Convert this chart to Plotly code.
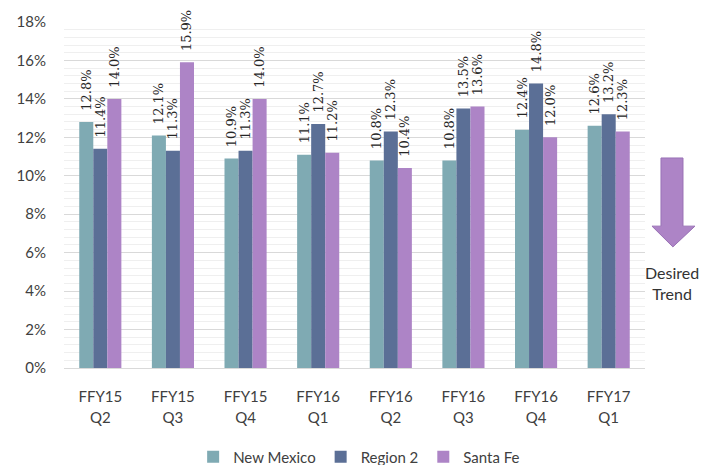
import plotly.graph_objects as go

categories = ["FFY15 Q2", "FFY15 Q3", "FFY15 Q4", "FFY16 Q1",
              "FFY16 Q2", "FFY16 Q3", "FFY16 Q4", "FFY17 Q1"]
year_labels = ["FFY15", "FFY15", "FFY15", "FFY16", "FFY16", "FFY16", "FFY16", "FFY17"]
quarter_labels = ["Q2", "Q3", "Q4", "Q1", "Q2", "Q3", "Q4", "Q1"]
new_mexico = [12.8, 12.1, 10.9, 11.1, 10.8, 10.8, 12.4, 12.6]
region_2 = [11.4, 11.3, 11.3, 12.7, 12.3, 13.5, 14.8, 13.2]
santa_fe = [14.0, 15.9, 14.0, 11.2, 10.4, 13.6, 12.0, 12.3]

series = [
    ("New Mexico", new_mexico, "#7faab3"),
    ("Region 2", region_2, "#5b6f96"),
    ("Santa Fe", santa_fe, "#ad84c6"),
]

FONT = "Lato, 'Open Sans', sans-serif"
NB = "\u00a0"

fig = go.Figure()
for name, vals, color in series:
    fig.add_trace(go.Bar(
        x=categories, y=vals, name=name,
        marker=dict(color=color, line=dict(width=0)),
        text=[f"{NB*2}{v:.1f}%" for v in vals],
        textposition="outside", textangle=-90,
        constraintext="none", cliponaxis=False,
        textfont=dict(family="'DejaVu Serif', serif", size=13, color="#262626"),
    ))

# invisible helper trace for the second (quarter) label row
fig.add_trace(go.Scatter(x=list(range(len(categories))), y=[0] * len(categories),
                         xaxis="x2", mode="markers", marker=dict(opacity=0),
                         showlegend=False, hoverinfo="skip"))

# Desired trend arrow (paper coordinates)
x_l, x_r = 1.0275, 1.0654
h_l, h_r = 1.012, 1.086
tip_x = 1.048
y_top, y_head, y_tip = 0.607, 0.410, 0.350
path = (f"M {x_l},{y_top} L {x_r},{y_top} L {x_r},{y_head} L {h_r},{y_head} "
        f"L {tip_x},{y_tip} L {h_l},{y_head} L {x_l},{y_head} Z")
fig.add_shape(type="path", path=path, xref="paper", yref="paper",
              fillcolor="#ad84c6", line=dict(color="#9a72b6", width=1))
fig.add_annotation(text="Desired<br>Trend", x=1.047, y=0.246, xref="paper", yref="paper",
                   xanchor="center", yanchor="middle",
                   showarrow=False, font=dict(family=FONT, size=16, color="#333333"),
                   align="center")

# page body adds an 8px offset, so the figure is 8px smaller and margins shifted
fig.update_layout(
    width=712, height=457,
    margin=dict(l=56, r=75, t=14, b=97, autoexpand=False),
    paper_bgcolor="white", plot_bgcolor="white",
    barmode="group", bargap=0.42, bargroupgap=0,
    font=dict(family=FONT, size=14, color="#404040"),
    showlegend=True,
    legend=dict(orientation="h", x=0.508, xanchor="center", y=-0.257, yanchor="middle",
                font=dict(family=FONT, size=15, color="#404040"),
                itemwidth=30, traceorder="normal"),
    xaxis=dict(showline=True, linecolor="#d9d9d9", linewidth=1, ticks="",
               tickmode="array", tickvals=categories, ticktext=year_labels,
               ticklabelstandoff=15, automargin=False,
               tickfont=dict(family=FONT, size=15, color="#404040")),
    xaxis2=dict(overlaying="x", side="bottom", range=[-0.5, len(categories) - 0.5],
                showgrid=False, showline=False, zeroline=False, ticks="",
                tickmode="array", tickvals=list(range(len(categories))),
                ticktext=quarter_labels, ticklabelstandoff=39, automargin=False,
                tickfont=dict(family=FONT, size=15, color="#404040")),
    yaxis=dict(range=[0, 18], dtick=2, ticksuffix="%", showgrid=True,
               gridcolor="#d9d9d9", gridwidth=1, zeroline=False, automargin=False,
               ticklabelstandoff=17,
               tickfont=dict(family=FONT, size=15, color="#404040"),
               minor=dict(dtick=0.4, showgrid=True, gridcolor="#efefef", gridwidth=1)),
)

fig.write_html("out.html")
